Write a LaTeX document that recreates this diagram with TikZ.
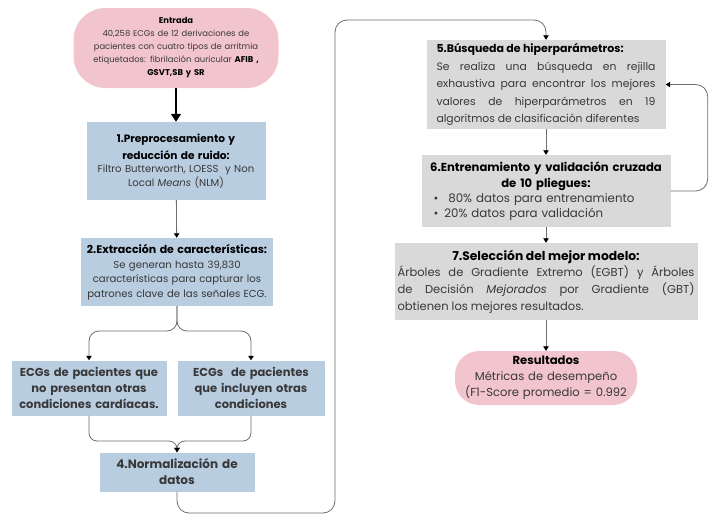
\documentclass[tikz,border=0pt]{standalone}
\usepackage{fontspec}
\setmainfont{Poppins}
\usetikzlibrary{arrows.meta}

\definecolor{pinkfill}{HTML}{F2C5CE}
\definecolor{bluefill}{HTML}{B9CDE1}
\definecolor{grayfill}{HTML}{D9D9D9}
\definecolor{linegray}{HTML}{6E6E6E}
\definecolor{bodytext}{HTML}{383838}

\begin{document}
\begin{tikzpicture}[x=1pt, y=-1pt,
    box/.style={rectangle, inner xsep=1pt, inner ysep=2pt, align=center, text=bodytext},
    bluebox/.style={box, fill=bluefill},
    graybox/.style={box, fill=grayfill},
    pill/.style={box, fill=pinkfill, rounded corners=32pt},
    conn/.style={draw=linegray, line width=0.8pt, rounded corners=10pt,
        -{Triangle[length=4.5pt, width=5.5pt, color=black]}}]
    \useasboundingbox (0,0) rectangle (716,525);

    % left column
    \node[pill, minimum width=205, minimum height=80, text width=200,
        font=\fontsize{8.4}{13}\selectfont] (entrada) at (176,48)
        {\textcolor{black}{\textbf{Entrada}}\par
         40,258 ECGs de 12 derivaciones de\\ pacientes con cuatro tipos de arritmia\\
         etiquetados: fibrilación auricular \textcolor{black}{\textbf{AFIB ,}}\\
         \textcolor{black}{\textbf{GSVT,SB y SR}}};

    \node[bluebox, minimum width=179, minimum height=78, text width=177,
        font=\fontsize{10.1}{13.5}\selectfont] (prep) at (176,161)
        {{\fontsize{10.6}{17}\selectfont\bfseries\color{black}1.Preprocesamiento y\\ reducción de ruido:\par}
         Filtro Butterworth, LOESS\ \ y Non\\ Local \textit{Means} (NLM)};

    \node[bluebox, minimum width=192, minimum height=68, text width=190,
        font=\fontsize{10.1}{14.5}\selectfont] (feat) at (177,272)
        {{\fontsize{11}{14.5}\selectfont\bfseries\color{black}2.Extracción de características:\par}
         Se generan hasta 39,830\\ características para capturar los\\ patrones clave de las señales ECG.};

    \node[bluebox, minimum width=155, minimum height=55, text width=153,
        font=\fontsize{11.5}{16}\selectfont\bfseries\color{black}] (noother) at (89,388)
        {ECGs de pacientes que\\ no presentan otras\\ condiciones cardíacas.};

    \node[bluebox, minimum width=147, minimum height=55, text width=145,
        font=\fontsize{11.5}{16}\selectfont\bfseries\color{black}] (withother) at (251,388)
        {ECGs\ \ de pacientes\\ que incluyen otras\\ condiciones};

    \node[bluebox, minimum width=155, minimum height=39, text width=153,
        font=\fontsize{12}{16}\selectfont\bfseries\color{black}] (norm) at (177,472)
        {4.Normalización de\\ datos};

    % right column
    \node[graybox, minimum width=239, minimum height=89, text width=219, align=justify,
        font=\fontsize{10.8}{17.4}\selectfont] (search) at (546,84.5)
        {{\raggedright\fontsize{11}{17.4}\selectfont\bfseries\color{black}5.Búsqueda de hiperparámetros:\par}
         Se realiza una búsqueda en rejilla\linebreak
         exhaustiva para encontrar los mejores\linebreak
         valores de hiperparámetros en 19\linebreak
         algoritmos de clasificación diferentes};

    \node[graybox, minimum width=249, minimum height=72, text width=245, align=left,
        font=\fontsize{11.8}{15}\selectfont] (fold) at (546,191)
        {{\centering\fontsize{11.6}{16.5}\selectfont\bfseries\color{black}6.Entrenamiento y validación cruzada\\ de 10 pliegues:\par}
         \hspace*{10pt}\textbullet\hspace{10pt}80\% datos para entrenamiento\\
         \hspace*{10pt}\textbullet\hspace{6pt}20\% datos para validación};

    \node[graybox, minimum width=303, minimum height=77, text width=297, align=justify,
        font=\fontsize{11.5}{16.7}\selectfont] (select) at (546,281.5)
        {{\centering\fontsize{12.3}{16.7}\selectfont\bfseries\color{black}7.Selección del mejor modelo:\par}
         Árboles de Gradiente Extremo (EGBT) y Árboles\linebreak
         de Decisión \textit{Mejorados} por Gradiente (GBT)\linebreak
         obtienen los mejores resultados.};

    \node[pill, minimum width=182, minimum height=54, text width=178, rounded corners=24pt,
        font=\fontsize{11.6}{16}\selectfont] (result) at (546,378)
        {{\bfseries\color{black}Resultados\par}
         Métricas de desempeño\\ (F1-Score promedio = 0.992};

    % connectors
    \coordinate (split) at (177,331);
    \coordinate (merge) at (177,441);
    \coordinate (lowturn) at (335,513);
    \coordinate (highturn) at (335,20);

    \draw[line width=1.5pt, -{Triangle[length=8pt, width=10pt]}] (entrada) -- (prep);
    \draw[conn] (prep) -- (feat);
    \draw[conn] (feat.south) -- (split) -| (noother.north);
    \draw[conn] (feat.south) -- (split) -| (withother.north);
    \draw[conn, rounded corners=8pt] (noother.south) |- (merge) -- (norm.north);
    \draw[conn, rounded corners=8pt] (withother.south) |- (merge) -- (norm.north);
    \draw[conn, rounded corners=12pt] (norm.south) |- (lowturn) -- (highturn) -| (search.north);
    \draw[conn] (search) -- (fold);
    \draw[conn, rounded corners=12pt] (fold.east) -- ++(37,0) |- (search.east);
    \draw[conn] (fold) -- (select);
    \draw[conn] (select) -- (result);
\end{tikzpicture}
\end{document}
